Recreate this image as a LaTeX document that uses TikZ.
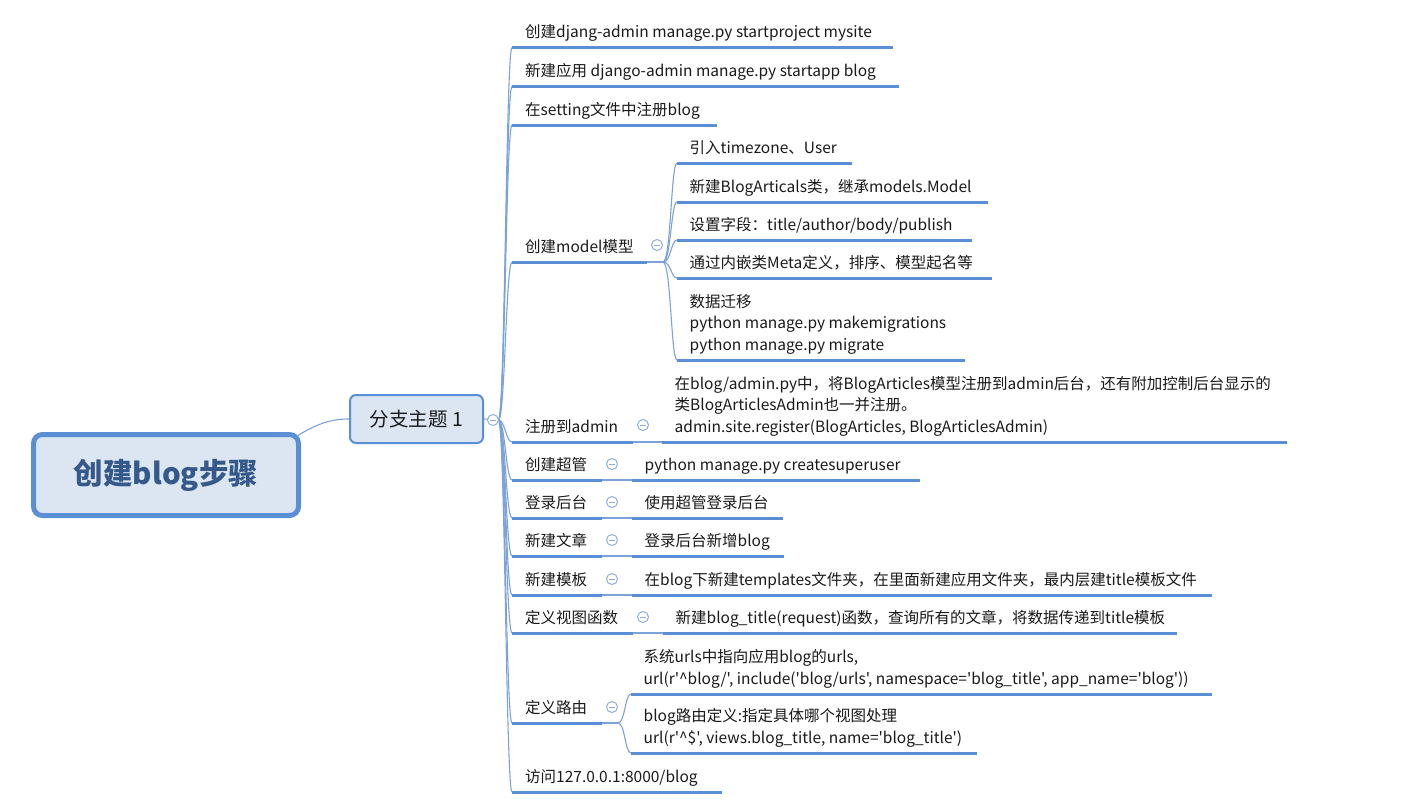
\documentclass[tikz,border=0pt]{standalone}
\usepackage{fontspec}
\setmainfont{Noto Sans CJK SC}[Ligatures=TeXOff]
\usetikzlibrary{calc}
\definecolor{ulblue}{HTML}{5B8FD5}
\definecolor{connblue}{HTML}{7BA2DB}
\definecolor{foldblue}{HTML}{8FAEDC}
\definecolor{fillblue}{HTML}{DCE6F2}
\definecolor{maintext}{HTML}{34598A}
\definecolor{txtc}{HTML}{1A1A1A}
\newcommand\dstr{\rule[-4.5pt]{0pt}{0pt}}
\newcommand\lvtwo[4]{%
  \coordinate (#1L) at (512,#2);
  \coordinate (#1R) at (#3,#2);
  \draw[conn] (bj) .. controls (505,420) and (506,#2) .. (#1L);
  \draw[ul] (#1L) -- (#1R);
  \node[txt] (#1) at (525,#2-5.1) {#4\dstr};
}
\newcommand\child[5]{%
  \coordinate (#1L) at (#2,#3);
  \coordinate (#1R) at (#4,#3);
  \draw[ul] (#1L) -- (#1R);
  \node[txt] (#1) at (#2+12.5,#3-5.1) {#5\dstr};
}
\newcommand\fold[2]{%
  \draw[foldc] (#1,#2) circle (5.5);
  \draw[foldc] (#1-2.8,#2) -- (#1+2.8,#2);
}
\begin{document}
\begin{tikzpicture}[x=1pt,y=-1pt,
  ul/.style={line width=3pt,color=ulblue},
  conn/.style={line width=1.1pt,color=connblue},
  foldc/.style={line width=1pt,draw=foldblue,fill=white},
  txt/.style={anchor=south west,inner sep=0pt,align=left,text=txtc,
    font=\fontsize{15.5}{21.5}\selectfont},
  mainbox/.style={draw=ulblue,line width=5pt,fill=fillblue,rounded corners=9pt,
    minimum width=265pt,minimum height=81pt,inner sep=0pt,
    font=\fontsize{29.5}{31}\selectfont\bfseries,text=maintext},
  branchbox/.style={draw=ulblue,line width=2pt,fill=fillblue,rounded corners=6pt,
    minimum width=133pt,minimum height=48pt,inner sep=0pt,
    font=\fontsize{19.5}{22}\selectfont,text=txtc}]
\fill[white] (0,0) rectangle (1404,808);
\useasboundingbox (0,0) rectangle (1404,808);

\node[mainbox] (m) at (166,475) {创建blog步骤};
\node[branchbox] (b) at (416.5,419) {分支主题 1};
\draw[conn] ($(m.north east)+(-4,4)$) .. controls (318,423) and (332,419) .. (b.west);
\coordinate (bj) at (498.5,420);
\draw[conn] (b.east) -- (bj);

\lvtwo{t1}{47.5}{893}{创建djang-admin manage.py startproject mysite}
\lvtwo{t2}{86.5}{899}{新建应用 django-admin manage.py startapp blog}
\lvtwo{t3}{125}{717}{在setting文件中注册blog}
\lvtwo{t4}{262}{647}{创建model模型}
\lvtwo{t5}{442}{633}{注册到admin}
\lvtwo{t6}{480}{602}{创建超管}
\lvtwo{t7}{518}{602}{登录后台}
\lvtwo{t8}{556}{602}{新建文章}
\lvtwo{t9}{595}{602}{新建模板}
\lvtwo{t10}{633}{633}{定义视图函数}
\lvtwo{t11}{723}{602}{定义路由}
\lvtwo{t12}{792}{722}{访问127.0.0.1:8000/blog}

% model children
\coordinate (mj) at (663,262);
\draw[conn] (t4R) -- (mj);
\child{m1}{677}{163}{852}{引入timezone、User}
\child{m2}{677}{202}{988}{新建BlogArticals类，继承models.Model}
\child{m3}{677}{240}{972}{设置字段：title/author/body/publish}
\child{m4}{677}{278}{992}{通过内嵌类Meta定义，排序、模型起名等}
\child{m5}{677}{360}{965}{数据迁移\\python manage.py makemigrations\\python manage.py migrate}
\foreach \c/\u in {m1/163,m2/202,m3/240,m4/278,m5/360}
  \draw[conn] (mj) .. controls (671,262) and (671,\u) .. (\c L);

% admin
\child{a1}{662}{442}{1287}{在blog/admin.py中，将BlogArticles模型注册到admin后台，还有附加控制后台显示的\\类BlogArticlesAdmin也一并注册。\\admin.site.register(BlogArticles, BlogArticlesAdmin)}
\draw[conn] (t5R) -- (a1L);
% superuser
\child{s1}{632}{480}{920}{python manage.py createsuperuser}
\draw[conn] (t6R) -- (s1L);
\child{l1}{632}{518}{783}{使用超管登录后台}
\draw[conn] (t7R) -- (l1L);
\child{n1}{632}{556}{784}{登录后台新增blog}
\draw[conn] (t8R) -- (n1L);
\child{p1}{632}{595}{1212}{在blog下新建templates文件夹，在里面新建应用文件夹，最内层建title模板文件}
\draw[conn] (t9R) -- (p1L);
\child{v1}{663}{633}{1177}{新建blog\_title(request)函数，查询所有的文章，将数据传递到title模板}
\draw[conn] (t10R) -- (v1L);

% routes
\coordinate (rj) at (618,723);
\draw[conn] (t11R) -- (rj);
\child{r1}{631}{694}{1212}{系统urls中指向应用blog的urls,\\url(r'\textasciicircum blog/', include('blog/urls', namespace='blog\_title', app\_name='blog'))}
\child{r2}{631}{753}{977}{blog路由定义:指定具体哪个视图处理\\url(r'\textasciicircum\$', views.blog\_title, name='blog\_title')}
\draw[conn] (rj) .. controls (625,723) and (625,694) .. (r1L);
\draw[conn] (rj) .. controls (625,723) and (625,753) .. (r2L);

% fold markers
\fold{493}{420}
\fold{657}{245}
\fold{643}{425}
\fold{612}{464}
\fold{612}{502}
\fold{612}{540}
\fold{612}{579}
\fold{643}{617}
\fold{612}{707}
\end{tikzpicture}
\end{document}
